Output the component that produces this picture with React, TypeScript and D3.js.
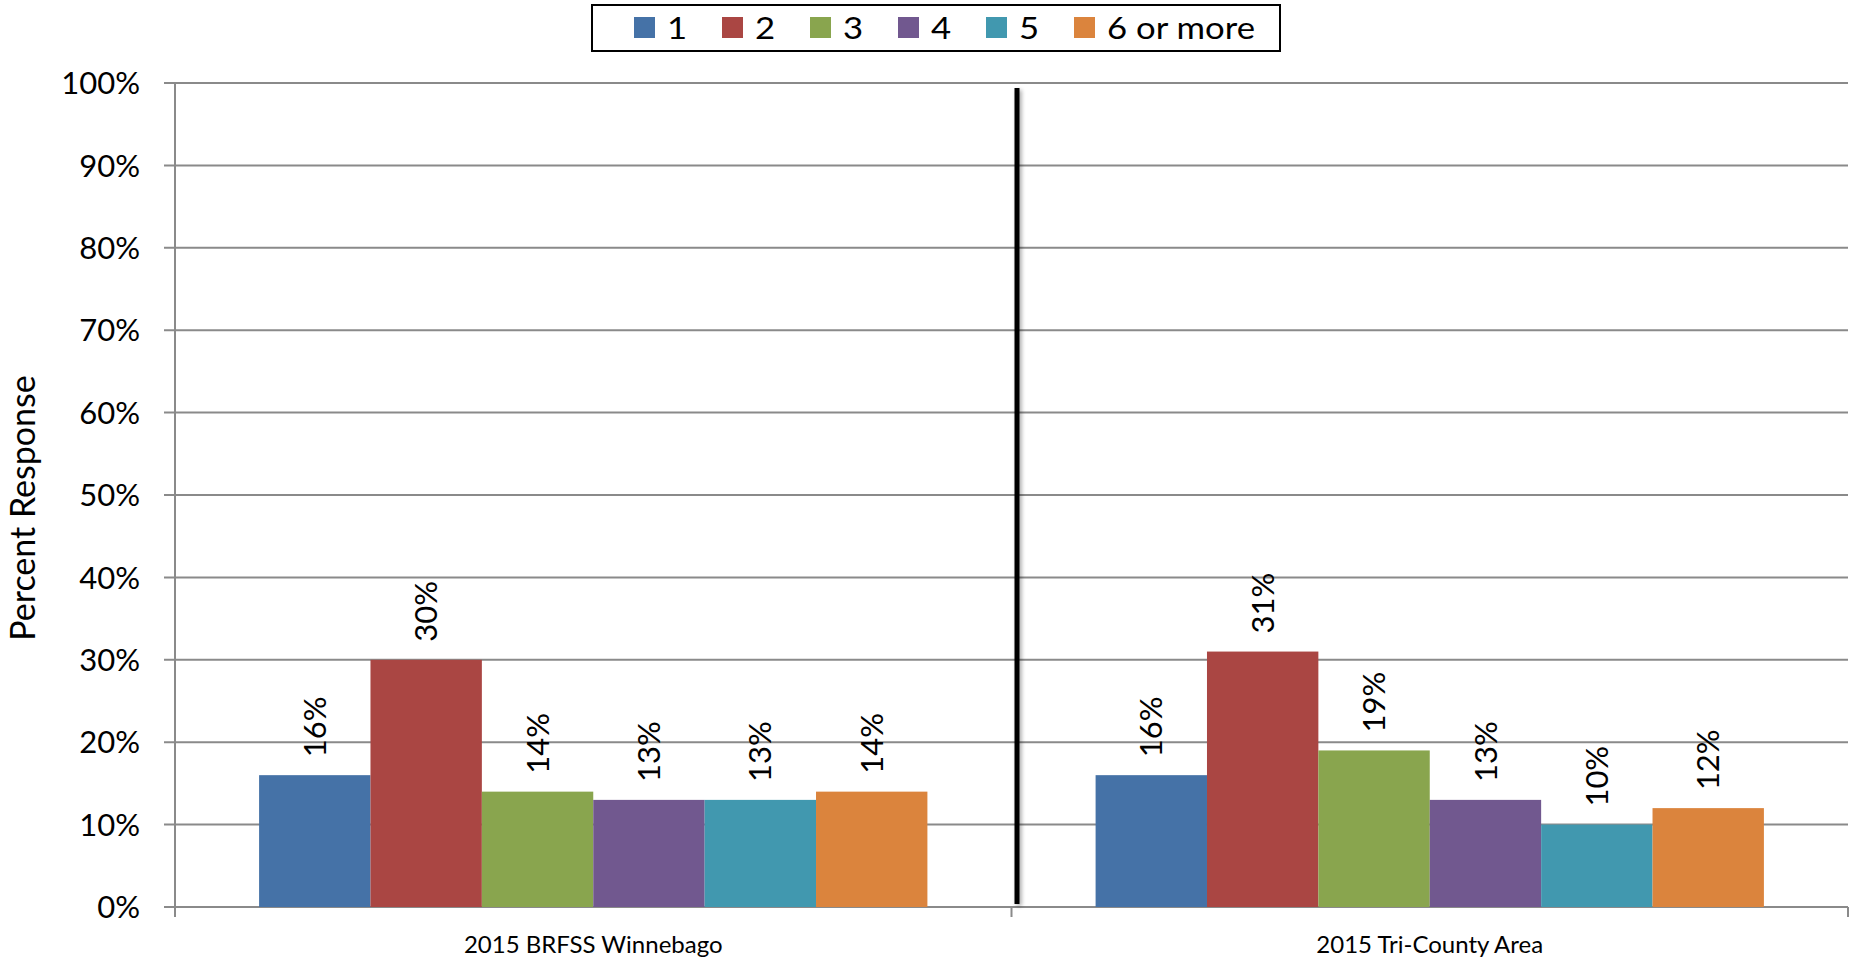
import { scaleBand, scaleLinear } from "d3";

const categories = ["2015 BRFSS Winnebago", "2015 Tri-County Area"];
const seriesNames = ["1", "2", "3", "4", "5", "6 or more"];
const seriesColors = ["#4572A7", "#AA4643", "#89A54E", "#71588F", "#4198AF", "#DB843D"];
const winnebago = [16, 30, 14, 13, 13, 14];
const triCounty = [16, 31, 19, 13, 10, 12];
const values = [winnebago, triCounty];
const yTicks = [0, 10, 20, 30, 40, 50, 60, 70, 80, 90, 100];

const FONT = "Lato, 'Open Sans', sans-serif";

export default function App() {
  const W = 1856;
  const H = 960;
  const left = 175;
  const right = 1848;
  const top = 83;
  const bottom = 907;

  const x0 = scaleBand<string>().domain(categories).range([left, right]).padding(0);
  const x1 = scaleBand<string>()
    .domain(seriesNames)
    .range([0, x0.bandwidth()])
    .paddingInner(0)
    .paddingOuter(0.755);
  const y = scaleLinear().domain([0, 100]).range([bottom, top]);

  // legend item positions
  const legendX = scaleBand<string>().domain(seriesNames).range([634, 634 + 88 * 6]);

  const gridColor = "#8a8a8a";
  const boundaries = [left, ...categories.map((c) => (x0(c) ?? 0) + x0.bandwidth())];
  const divider = (x0(categories[1]) ?? 0) + 6;

  return (
    <div style={{ position: "absolute", left: 0, top: 0 }}>
      <svg width={W} height={H} style={{ display: "block", background: "#fff" }}>
        <defs>
          <filter id="shadow" x="-200%" y="-5%" width="500%" height="110%">
            <feGaussianBlur in="SourceAlpha" stdDeviation="2" />
            <feOffset dx="2" dy="2" result="b" />
            <feComponentTransfer>
              <feFuncA type="linear" slope="0.35" />
            </feComponentTransfer>
            <feMerge>
              <feMergeNode />
              <feMergeNode in="SourceGraphic" />
            </feMerge>
          </filter>
        </defs>

        {/* gridlines + y ticks */}
        {yTicks.map((t) => (
          <g key={t}>
            <line x1={left - 11} x2={right} y1={y(t)} y2={y(t)} stroke={gridColor} strokeWidth={2} />
            <text
              x={140}
              y={y(t)}
              dy="0.36em"
              textAnchor="end"
              fontFamily={FONT}
              fontSize={31}
              fill="#000"
            >
              {t}%
            </text>
          </g>
        ))}

        {/* y axis */}
        <line x1={left} x2={left} y1={top} y2={bottom + 10} stroke={gridColor} strokeWidth={2} />

        {/* x ticks */}
        {boundaries.map((bx, i) => (
          <line key={i} x1={bx} x2={bx} y1={bottom} y2={bottom + 10} stroke={gridColor} strokeWidth={2} />
        ))}

        {/* bars */}
        {categories.map((cat, ci) => (
          <g key={cat} transform={`translate(${x0(cat)},0)`}>
            {values[ci].map((v, si) => {
              const bx = x1(seriesNames[si]) ?? 0;
              const bw = x1.bandwidth();
              return (
                <g key={si}>
                  <rect x={bx} y={y(v)} width={bw} height={bottom - y(v)} fill={seriesColors[si]} />
                  <text
                    transform={`translate(${bx + bw / 2},${y(v) - 18}) rotate(-90)`}
                    dy="0.36em"
                    textAnchor="start"
                    fontFamily={FONT}
                    fontSize={31}
                    fill="#000"
                  >
                    {v}%
                  </text>
                </g>
              );
            })}
            <text
              x={x0.bandwidth() / 2}
              y={953}
              textAnchor="middle"
              fontFamily={FONT}
              fontSize={24}
              fill="#000"
            >
              {cat}
            </text>
          </g>
        ))}

        {/* divider */}
        <rect x={divider - 3} y={88} width={5} height={816} fill="#000" filter="url(#shadow)" />

        {/* y title */}
        <text
          transform={`translate(23,508) rotate(-90)`}
          dy="0.34em"
          textAnchor="middle"
          fontFamily={FONT}
          fontSize={34}
          fill="#000"
        >
          Percent Response
        </text>

        {/* legend */}
        <rect x={592} y={5} width={688} height={46} fill="#fff" stroke="#000" strokeWidth={2} />
        {seriesNames.map((s, i) => (
          <g key={s} transform={`translate(${legendX(s)},0)`}>
            <rect x={0} y={17} width={21} height={21} fill={seriesColors[i]} />
            <text
              transform="translate(33,39) scale(1.12,1)"
              fontFamily={FONT}
              fontSize={31}
              fill="#000"
            >
              {s}
            </text>
          </g>
        ))}
      </svg>
    </div>
  );
}
